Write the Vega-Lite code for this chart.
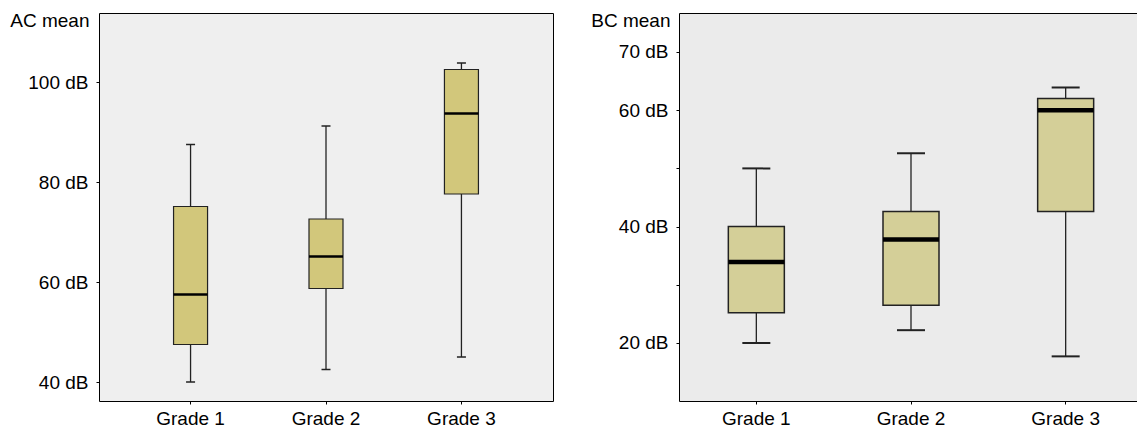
{
  "$schema": "https://vega.github.io/schema/vega-lite/v6.json",
  "background": "white",
  "padding": {"left": 9, "top": 10, "right": 0, "bottom": 0},
  "autosize": {"type": "pad"},
  "spacing": 36,
  "config": {
    "font": "Liberation Sans",
    "view": {"stroke": "#000", "strokeWidth": 1},
    "axis": {
      "grid": false,
      "domain": false,
      "labelFontSize": 19,
      "titleFontSize": 19,
      "titleFontWeight": "normal",
      "labelColor": "#000",
      "titleColor": "#000",
      "tickColor": "#000",
      "tickSize": 3,
      "labelPadding": 8
    }
  },
  "hconcat": [
    {
      "width": 454,
      "height": 388,
      "view": {"fill": "#EFEFEF", "stroke": "#000"},
      "data": {"values": [
        {"grade": "Grade 1", "min": 40, "q1": 47.5, "median": 57.5, "q3": 75.1, "max": 87.5},
        {"grade": "Grade 2", "min": 42.5, "q1": 58.7, "median": 65.1, "q3": 72.6, "max": 91.2},
        {"grade": "Grade 3", "min": 45, "q1": 77.6, "median": 93.7, "q3": 102.5, "max": 103.8}
      ]},
      "encoding": {
        "x": {"field": "grade", "type": "nominal", "sort": null,
          "scale": {"paddingInner": 0, "paddingOuter": 0.176},
          "axis": {"title": null, "labelAngle": 0, "labelPadding": 5}}
      },
      "layer": [
        {"mark": {"type": "rule", "color": "#222", "strokeWidth": 1.3},
         "encoding": {
           "y": {"field": "min", "type": "quantitative",
             "scale": {"domain": [36.2, 113.8], "nice": false, "zero": false},
             "axis": {"values": [40, 60, 80, 100], "labelExpr": "datum.value + ' dB'",
               "title": "AC mean", "titleAngle": 0, "titleAlign": "right", "titleX": -10, "titleY": 13,
               "titleBaseline": "alphabetic"}},
           "y2": {"field": "max"}}},
        {"mark": {"type": "tick", "size": 9, "thickness": 1.5, "color": "#222", "opacity": 1},
         "encoding": {"y": {"field": "max", "type": "quantitative"}}},
        {"mark": {"type": "tick", "size": 9, "thickness": 1.5, "color": "#222", "opacity": 1},
         "encoding": {"y": {"field": "min", "type": "quantitative"}}},
        {"mark": {"type": "bar", "width": 34, "fill": "#D2C77B", "stroke": "#222", "strokeWidth": 1.2, "opacity": 1},
         "encoding": {"y": {"field": "q1", "type": "quantitative"}, "y2": {"field": "q3"}}},
        {"mark": {"type": "tick", "size": 34, "thickness": 2.5, "color": "#000", "opacity": 1},
         "encoding": {"y": {"field": "median", "type": "quantitative"}}}
      ]
    },
    {
      "width": 464,
      "height": 388,
      "view": {"fill": "#EBEBEB", "stroke": "#000"},
      "data": {"values": [
        {"grade": "Grade 1", "min": 20, "q1": 25.2, "median": 33.9, "q3": 40, "max": 50},
        {"grade": "Grade 2", "min": 22.2, "q1": 26.5, "median": 37.8, "q3": 42.6, "max": 52.6},
        {"grade": "Grade 3", "min": 17.7, "q1": 42.6, "median": 60, "q3": 62, "max": 63.9}
      ]},
      "encoding": {
        "x": {"field": "grade", "type": "nominal", "sort": null,
          "scale": {"paddingInner": 0, "paddingOuter": 0},
          "axis": {"title": null, "labelAngle": 0, "labelPadding": 5}}
      },
      "layer": [
        {"mark": {"type": "rule", "color": "#222", "strokeWidth": 1.3},
         "encoding": {
           "y": {"field": "min", "type": "quantitative",
             "scale": {"domain": [10.03, 76.7], "nice": false, "zero": false},
             "axis": {"values": [20, 30, 40, 50, 60, 70],
               "labelExpr": "datum.value == 30 || datum.value == 50 ? '' : datum.value + ' dB'",
               "title": "BC mean", "titleAngle": 0, "titleAlign": "right", "titleX": -9, "titleY": 13,
               "titleBaseline": "alphabetic"}},
           "y2": {"field": "max"}}},
        {"mark": {"type": "tick", "size": 28, "thickness": 2, "color": "#222", "opacity": 1},
         "encoding": {"y": {"field": "max", "type": "quantitative"}}},
        {"mark": {"type": "tick", "size": 28, "thickness": 2, "color": "#222", "opacity": 1},
         "encoding": {"y": {"field": "min", "type": "quantitative"}}},
        {"mark": {"type": "bar", "width": 56, "fill": "#D4CF98", "stroke": "#222", "strokeWidth": 1.5, "opacity": 1},
         "encoding": {"y": {"field": "q1", "type": "quantitative"}, "y2": {"field": "q3"}}},
        {"mark": {"type": "tick", "size": 56, "thickness": 4.5, "color": "#000", "opacity": 1},
         "encoding": {"y": {"field": "median", "type": "quantitative"}}}
      ]
    }
  ]
}
